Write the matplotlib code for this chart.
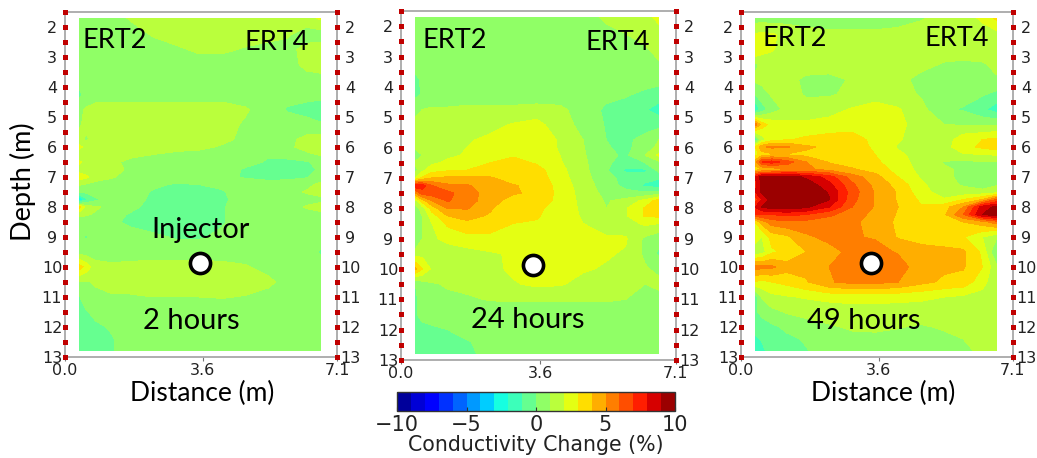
import matplotlib

matplotlib.use("Agg")
import matplotlib.pyplot as plt
import numpy as np

W, H = 1037, 458

distances = [0.37, 0.55, 0.8, 1.2, 1.7, 2.3, 2.9, 3.5, 4.1, 4.7, 5.3, 5.8, 6.3, 6.66]
depths = [1.7, 2.25, 2.75, 3.25, 3.75, 4.25, 4.75, 5.25, 5.75, 6.0, 6.25, 6.5, 6.75, 7.0, 7.25,
          7.5, 7.75, 8.0, 8.25, 8.5, 9.0, 9.5, 10.0, 10.5, 11.0, 11.5, 12.0, 12.4, 12.77]

change_2h = [
    [.5, .5, .5, .5, 1.1, 1.5, 1.5, 1.5, 1.5, 1.5, 1.5, 1.5, 1.5, 2.2],
    [.5, .5, .5, .5, .5, 1.1, 1.5, 1.5, 1.5, 1.5, 1.3, 1.1, .6, .5],
    [.5, .5, .5, .5, .5, .5, .8, 1.2, 1.2, .9, .7, .7, 1.3, 1.4],
    [.5, .5, .5, .5, .5, .5, .5, .5, .5, .5, .5, .5, 1.3, 1.4],
    [.5, .5, .5, .5, .5, .5, .5, .5, .5, .5, .5, .5, .6, .7],
    [-.3, .4, .5, .5, .5, .5, .5, .5, .5, .5, .5, .4, .3, .3],
    [.8, 1.1, 1.4, 1.5, 1.5, 1.5, 1.5, 1.5, 1.5, 1.1, .6, -.1, -.3, -.5],
    [.9, 1.2, 1.4, 1.5, 1.5, 1.5, 1.5, 1.5, 1.3, .9, .5, .5, .3, .1],
    [1.2, .9, 1.2, 1.5, 1.5, 1.5, 1.5, 1.4, 1.2, .8, .5, .7, 1.3, 1.4],
    [2.3, 1.6, 1.2, 1.3, 1.4, 1.4, 1.3, 1.2, .9, .6, .5, .8, 1.3, 1.4],
    [1.2, 1.1, 1.1, 1.1, 1.1, 1.0, .8, .7, .6, .4, .1, .3, .8, 1.1],
    [2.2, 1.6, 1.1, 1.1, .9, .7, .6, .6, .5, .3, -.1, -.2, -.1, .3],
    [1.5, 1.4, 1.3, 1.2, .9, .7, .5, .5, .4, -.1, -.4, -.4, -.2, .1],
    [2.6, 2.2, 1.4, 1.1, .7, .5, .5, .5, .3, -.1, -.4, -.3, -.1, .5],
    [1.1, .9, .7, .6, .5, .2, -.1, 0, .2, .5, .5, .5, .7, 1.2],
    [.3, .2, .6, .5, .5, -.1, -.3, -.3, -.1, .5, .5, .6, 1.1, 1.4],
    [-3.5, -1.2, -.2, .4, .4, -.2, -.5, -.5, -.2, .5, .5, .5, .6, .7],
    [3.5, 1.6, 1.1, .8, .3, -.4, -.5, -.5, -.1, .5, .5, .5, 1.1, 1.4],
    [1.2, 1.1, .9, .4, -.1, -.5, -.5, -.5, -.1, .5, .5, .5, .6, .7],
    [.5, .5, .5, .2, -.2, -.5, -.5, -.5, -.1, .5, .5, .5, .5, .5],
    [.2, -.1, .3, .5, .4, .2, -.1, -.1, .2, .5, .5, .5, .5, .5],
    [.5, .5, .5, .5, .5, .5, .5, .5, .5, .5, .5, .5, .3, -.1],
    [3.5, 2.6, 1.4, 1.2, 1.3, 1.4, 1.4, 1.4, 1.3, 1.1, .7, .5, .5, .5],
    [.9, .9, 1.1, 1.3, 1.4, 1.5, 1.5, 1.5, 1.5, 1.4, 1.2, .7, .5, .5],
    [-.1, .7, .8, .9, .9, 1.0, 1.0, 1.0, 1.05, .95, .7, .5, .5, .5],
    [-.2, -.1, .3, .5, .5, .5, .5, .5, .5, .5, .5, .5, .5, .5],
    [-.4, -.3, -.2, .1, .5, .5, .5, .5, .5, .5, .5, .5, .5, .5],
    [-.4, -.4, -.3, -.1, .5, .5, .5, .5, .5, .5, .5, .5, .5, .5],
    [-.4, -.4, -.3, -.1, .4, .5, .5, .5, .5, .5, .5, .5, .5, .5],
]

change_24h = [
    [.5, .5, .5, .5, .5, .5, .5, .5, .5, .5, 1.2, 1.3, 1.5, 2.4],
    [.5, .5, .5, .5, .5, .5, .5, .5, .5, .5, .7, 1.0, 1.3, 1.5],
    [.5, .5, .5, .5, .5, .5, .5, .5, .5, .5, .5, .6, .9, 1.3],
    [.5, .5, .5, .5, .5, .5, .5, .5, .5, .5, .5, .5, .6, .9],
    [-.3, .2, .5, .5, .5, .5, .5, .5, .5, .5, .5, .5, .4, .3],
    [-.3, .1, .5, .5, .5, .5, .5, .5, .5, .5, .3, .1, -.2, -.4],
    [.9, 1.0, 1.1, 1.1, 1.2, 1.2, 1.2, 1.3, 1.2, .6, -.2, -.4, -.9, -1.5],
    [1.1, 1.2, 1.3, 1.3, 1.4, 1.7, 2.1, 2.4, 1.3, .8, -.1, -.3, -.4, -.3],
    [1.3, 1.3, 1.4, 1.5, 1.9, 2.2, 2.4, 2.6, 1.9, 1.0, 0, -.2, .3, 1],
    [1.2, 1.4, 1.5, 1.6, 2.0, 2.3, 2.5, 2.6, 1.9, 1.05, .1, -.3, .6, 1.2],
    [0, 1.0, 1.6, 1.8, 2.1, 2.5, 2.9, 2.8, 2.0, 1.1, .3, -.2, 1.0, 2.2],
    [1.2, 1.5, 1.8, 2.2, 2.6, 3.0, 3.3, 2.9, 2.1, 1.2, .2, -.5, 0, .7],
    [.6, 1.8, 2.6, 2.9, 3.0, 3.3, 3.6, 3.4, 2.3, 1.3, .1, -1.2, -1.2, .3],
    [2, 3.2, 4, 4.2, 4.2, 4.1, 3.6, 3.6, 2.4, 1.4, .3, -.3, -.6, -.9],
    [7.8, 7.5, 6, 5.2, 5.1, 4.6, 4.05, 3.8, 2.6, 1.5, .5, -.3, -1.2, -1.5],
    [5, 6.5, 6.6, 6.3, 5.4, 4.6, 4.1, 3.8, 2.7, 1.6, .7, .3, .2, .5],
    [1.5, 3.5, 5, 6.1, 5.5, 4.4, 3.6, 3.6, 2.7, 1.7, .9, 1.3, 2.3, 3.5],
    [.5, 1.5, 3.5, 5, 5.1, 4.1, 3.4, 3.2, 2.6, 1.8, 1.0, 1.9, 3.1, 3.8],
    [.2, 1, 2.5, 4, 4.3, 3.9, 3.3, 3.1, 2.5, 1.9, 1.1, 1.9, 3.1, 3.2],
    [.5, 1, 2, 3.2, 3.8, 3.7, 3, 2.9, 2.4, 2, 1.2, 1.5, 2.2, 2],
    [-.1, 1, 1.8, 2.3, 2.6, 2.6, 2.4, 2.3, 2.3, 2.2, 2.2, 2.1, .8, .3],
    [1.5, 1.7, 1.5, 1.4, 1.6, 1.9, 2.1, 2.2, 2.3, 2.2, 2.1, 1.9, .8, -.2],
    [4.2, 3, 1.8, 1.3, 1.4, 1.7, 2.2, 2.4, 2.3, 2.1, 1.9, 1.3, 1.1, .8],
    [0, .5, .9, 1.1, 1.2, 1.5, 1.9, 2.2, 2.1, 1.7, 1.4, 1.2, 1, 1.2],
    [-.2, .4, .6, .8, .9, 1.05, 1.1, 1.1, 1.1, 1.1, 1.1, 1.0, .9, .7],
    [-.1, .3, .5, .5, .5, .5, .5, .5, .5, .5, .5, .5, .5, .5],
    [-.3, -.3, -.2, 0, .5, .5, .5, .5, .5, .5, .5, .5, .5, .5],
    [-.4, -.4, -.3, -.2, -.1, .4, .5, .5, .5, .5, .5, .5, .5, .5],
    [-.3, -.3, -.3, -.3, -.2, .3, .5, .5, .5, .5, .5, .5, .5, .5],
]

change_49h = [
    [.5, .5, .5, .5, .5, .5, .5, .5, .6, .9, 1.3, 1.5, 2.2, 3.2],
    [2.1, 2.2, 2.1, 1.8, 1.4, 1.2, 1.2, 1.2, 1.3, 1.5, 1.5, 1.6, 1.5, 1.6],
    [3, 2.4, 2.1, 1.6, 1.5, 1.5, 1.5, 1.5, 1.5, 1.5, 1.5, 1.5, 1.5, 1.5],
    [.8, 1.2, 1.4, 1.5, 1.5, 1.5, 1.5, 1.5, 1.5, 1.3, .9, .8, .9, 1.2],
    [1.2, 1.3, 1.3, 1.3, .8, .7, 1.1, 1.4, 1.3, .7, .5, .5, .6, .9],
    [0, .6, 1.1, 1.4, .9, .9, 1.2, 1.5, 1.4, .9, .6, .4, .1, -.3],
    [-2, -.5, .5, 1.3, 1.4, 1.6, 2.1, 2.5, 2.1, 1.3, .2, -.1, -.8, -1.5],
    [5.5, 3.5, 2.6, 2.3, 2.2, 2.4, 2.7, 2.6, 2.3, 1.5, 1, .9, .8, .9],
    [-1, 1.5, 2.6, 2.9, 3.2, 3.4, 3.3, 2.8, 2.1, 1.5, 1.4, 2.6, 3, 3.2],
    [3, 4.8, 5.2, 5.1, 4.2, 3.7, 3.3, 2.9, 1.9, 1.4, 1.6, 2.6, 3.2, 3.5],
    [2.5, 3.5, 3.8, 3.9, 3.7, 3.6, 3.5, 3, 2.2, 1.6, 1.4, 1.9, 2.0, 2.1],
    [4.5, 7, 7.5, 6.5, 5, 3.9, 3.6, 3.2, 2.4, 1.6, .95, .8, .9, 1],
    [3.5, 4, 4.2, 5, 5.2, 4.7, 4.1, 3.6, 2.6, 1.7, 1.1, .9, .8, .9],
    [8, 9.6, 9.6, 9.6, 8.8, 7.5, 5.5, 4.4, 3, 1.9, 1.1, .9, .9, .9],
    [7.5, 9.3, 9.7, 9.8, 9.6, 8.3, 6.2, 4.7, 3.6, 2.2, 1.3, .9, .5, .9],
    [8, 9.3, 9.7, 9.9, 9.8, 8.9, 6.5, 4.9, 3.9, 2.4, 1.5, 1.3, 1.3, 1.5],
    [6.5, 8, 9.5, 9.8, 9.7, 9.05, 6.3, 4.9, 3.9, 2.8, 2.1, 3, 4, 6],
    [8, 9.1, 9.5, 9.6, 9.2, 8.0, 6, 4.9, 4, 3.1, 3.6, 5, 8.5, 9.2],
    [7, 7, 7, 7.3, 7, 6.2, 5.5, 4.7, 3.9, 3.2, 3.8, 6, 9, 9.6],
    [3, 4.5, 5.5, 5.8, 5.7, 5.5, 5.2, 4.6, 3.8, 3.2, 3.4, 4, 4.6, 5.5],
    [2.5, 2, 3.4, 3.8, 4.8, 5.3, 5.1, 4.9, 3.9, 3.6, 3.4, 3.1, 2, 1.2],
    [1.3, 1.6, 2.8, 3.3, 4, 4.6, 5.3, 5.4, 4.9, 4.4, 4.3, 4.2, 2.8, -.1],
    [5.4, 5.3, 5.2, 4.4, 4.3, 5.0, 5.6, 5.8, 5.5, 4.4, 4.2, 4.1, 3.0, 1.3],
    [2.9, 2.7, 3, 3.3, 3.9, 4.9, 5.3, 5.3, 5, 4.3, 3.8, 3.6, 2.4, 1.2],
    [-.5, 1.1, 1.7, 1.9, 2.1, 2.3, 2.4, 2.4, 2.3, 2.2, 2, 1.8, 1.6, 1.0],
    [-.2, .3, .7, 1.1, 1.3, 1.4, 1.5, 1.5, 1.5, 1.5, 1.5, 1.5, 1.5, 1.5],
    [-.7, -.5, -.2, .2, .6, .9, 1.1, 1.15, 1.05, .9, 1.1, 1.4, 1.5, 1.5],
    [-1.2, -.9, -.5, -.2, .1, .6, .8, .8, .7, .7, .8, 1.0, 1.3, 1.5],
    [-1.5, -1.2, -.6, -.3, -.05, .4, .5, .5, .5, .5, .5, .8, 1.2, 1.5],
]

injector_x = [3.52, 3.41, 3.39]
injector_depth = 9.87
time_labels = ["2 hours", "24 hours", "49 hours"]
depth_ticks = list(range(2, 14))
distance_ticks = [0.0, 3.6, 7.1]
electrode_depths = np.arange(1.5, 13.5, 0.5)
cbar_ticks = [-10, -5, 0, 5, 10]


def px_axes(fig, left, top, right, bottom):
    return fig.add_axes([left / W, 1 - bottom / H, (right - left) / W, (bottom - top) / H])


def px_text(fig, x, y, s, **kwargs):
    kwargs.setdefault("family", "Lato")
    kwargs.setdefault("ha", "center")
    kwargs.setdefault("va", "center")
    kwargs.setdefault("color", "black")
    fig.text(x / W, 1 - y / H, s, **kwargs)


def depth_labels(ax):
    # labels sit centred on a line about 13 px from the borehole
    ax.set_ylim(13, 1.5)
    ax.set_yticks(depth_ticks)
    ax.tick_params(axis="y", length=0, pad=9.4, labelsize=11.5, labelcolor="#222222")
    for label in ax.get_yticklabels():
        label.set_ha("center")


fig = plt.figure(figsize=(W / 100, H / 100), dpi=100)
levels = np.arange(-10, 11, 1)

panels = [
    (change_2h, (65, 12, 337, 357)),
    (change_24h, (401, 11, 676, 360)),
    (change_49h, (741, 12, 1013, 357)),
]

for i, (values, box) in enumerate(panels):
    ax = px_axes(fig, *box)
    cs = ax.contourf(distances, depths, np.array(values), levels=levels, cmap="jet")
    ax.set_xlim(0, 7.1)
    for spine in ax.spines.values():
        spine.set_color("#a8a8a8")
        spine.set_linewidth(1.3)

    depth_labels(ax)
    ax.set_xticks(distance_ticks, [f"{t:.1f}" for t in distance_ticks])
    ax.tick_params(axis="x", length=3, width=0.8, color="#777777", pad=1.5,
                   labelsize=11.5, labelcolor="#222222")

    right = ax.twinx()
    depth_labels(right)
    for spine in right.spines.values():
        spine.set_visible(False)

    # electrodes on both boreholes
    for x_well in (0, 7.1):
        ax.plot(np.full_like(electrode_depths, x_well), electrode_depths, ls="none", marker="s",
                ms=3.6, mew=0, mfc="#c00000", clip_on=False, zorder=5)
    ax.plot(injector_x[i], injector_depth, marker="o", ms=14.5, mfc="white", mec="black",
            mew=2.6, zorder=6)

px_text(fig, 115, 41, "ERT2", fontsize=19.5)
px_text(fig, 277, 42, "ERT4", fontsize=19.5)
px_text(fig, 455, 41, "ERT2", fontsize=19.5)
px_text(fig, 618, 42, "ERT4", fontsize=19.5)
px_text(fig, 795, 38, "ERT2", fontsize=19.5)
px_text(fig, 957, 39, "ERT4", fontsize=19.5)
px_text(fig, 201, 230, "Injector", fontsize=21)
px_text(fig, 191, 321, time_labels[0], fontsize=21)
px_text(fig, 528, 320, time_labels[1], fontsize=21)
px_text(fig, 864, 321, time_labels[2], fontsize=21)
px_text(fig, 202, 393, "Distance (m)", fontsize=19)
px_text(fig, 883, 393, "Distance (m)", fontsize=19)
px_text(fig, 23, 182, "Depth (m)", fontsize=19.5, rotation=90)

cax = px_axes(fig, 397, 392, 675, 411)
cbar = fig.colorbar(cs, cax=cax, orientation="horizontal", ticks=cbar_ticks)
cbar.outline.set_edgecolor("#333333")
cbar.outline.set_linewidth(1)
cax.tick_params(direction="in", length=3, width=0.8, color="#333333", pad=3, labelsize=15,
                labelcolor="#222222")
cbar.set_label("Conductivity Change (%)", fontsize=14.8, color="#222222", labelpad=0)

fig.savefig("out.png", dpi=100)
